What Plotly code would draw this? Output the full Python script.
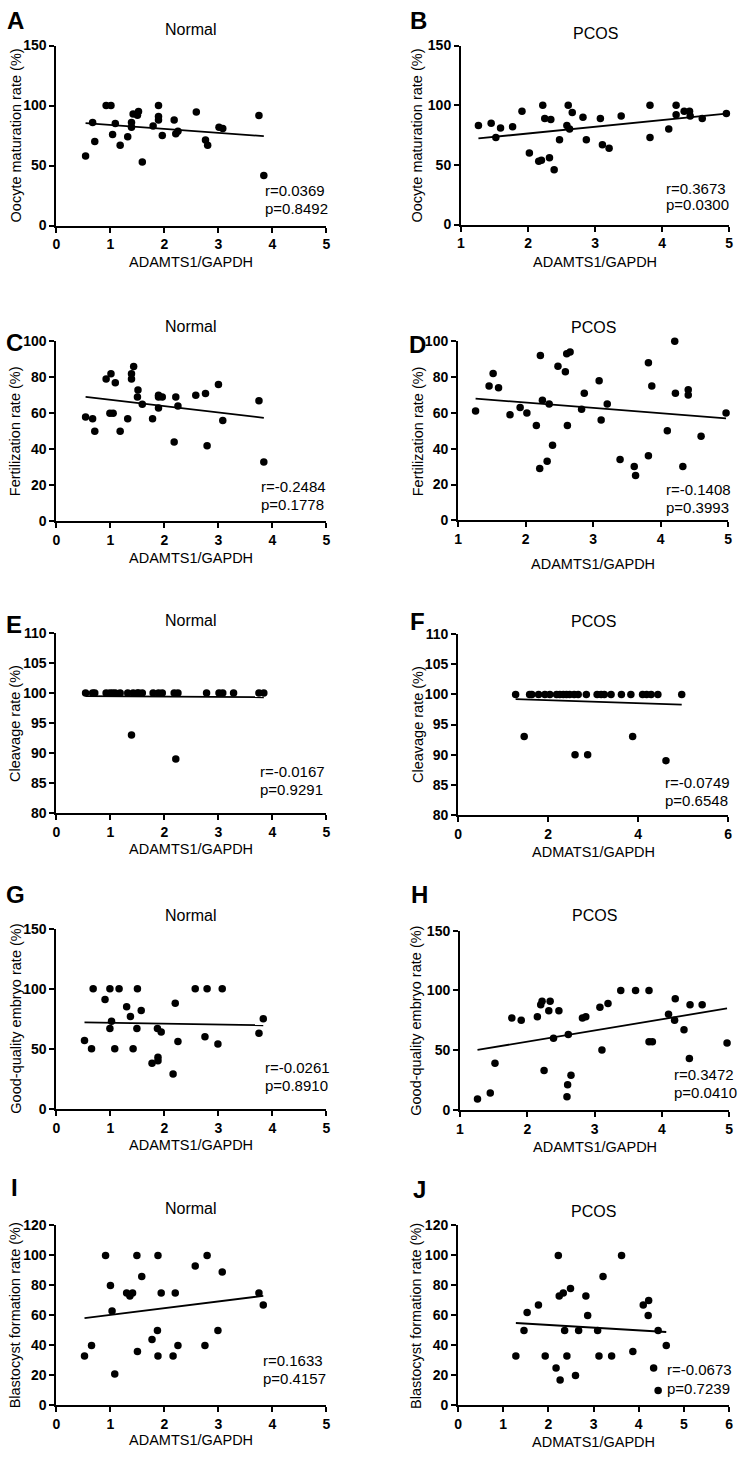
import plotly.graph_objects as go

W, H = 739, 1458
FONT = "Arial, Liberation Sans, Helvetica, sans-serif"

# ---------------- data ----------------
# A: Normal, oocyte maturation
a_x = [0.54, 0.67, 0.71, 0.92, 1.01, 1.04, 1.09, 1.18, 1.32, 1.39, 1.39, 1.42, 1.50, 1.52, 1.59,
       1.79, 1.89, 1.89, 1.89, 1.96, 2.18, 2.21, 2.25, 2.59, 2.76, 2.80, 3.01, 3.08, 3.75, 3.84]
a_y = [58, 86, 70, 100, 100, 76, 85, 67, 74, 82, 86, 93, 92, 95, 53,
       83, 100, 91, 88, 75, 88, 76.5, 78.7, 94.7, 71.3, 67, 82, 81, 91.7, 41.8]
a_fit_x = [0.54, 3.84]
a_fit_y = [85.3, 74.5]
a_stat = ["r=0.0369", "p=0.8492"]

# B: PCOS, oocyte maturation
b_x = [1.26, 1.45, 1.52, 1.59, 1.77, 1.91, 2.02, 2.16, 2.20, 2.22, 2.25, 2.32, 2.34, 2.39, 2.47,
       2.58, 2.60, 2.62, 2.66, 2.82, 2.87, 3.08, 3.11, 3.21, 3.39, 3.82, 3.82, 4.10, 4.21, 4.21,
       4.33, 4.41, 4.42, 4.60, 4.96]
b_y = [83, 85, 73, 81, 82, 95, 60, 53, 54, 100, 89, 56, 88, 46, 71,
       83, 100, 80, 94, 90, 71, 89, 67, 64, 91, 100, 73, 80, 100, 92,
       95, 95, 91, 89, 93]
b_fit_x = [1.26, 4.96]
b_fit_y = [72.2, 93.0]
b_stat = ["r=0.3673", "p=0.0300"]

# C: Normal, fertilization
c_x = [0.54, 0.67, 0.71, 0.92, 1.01, 0.99, 1.05, 1.09, 1.18, 1.32, 1.39, 1.39, 1.43, 1.51, 1.50,
       1.59, 1.78, 1.89, 1.89, 1.89, 1.96, 2.18, 2.21, 2.25, 2.58, 2.76, 2.79, 3.00, 3.08, 3.75, 3.84]
c_y = [58, 57, 50, 79, 82, 60, 60, 77, 50, 57, 82, 79, 86, 73, 69,
       65, 57, 70, 63, 69, 69, 44, 69, 64, 70, 71, 42, 76, 56, 67, 33]
c_fit_x = [0.54, 3.84]
c_fit_y = [69.1, 57.5]
c_stat = ["r=-0.2484", "p=0.1778"]

# D: PCOS, fertilization
d_x = [1.26, 1.46, 1.52, 1.60, 1.77, 1.92, 2.02, 2.16, 2.22, 2.21, 2.25, 2.32, 2.35, 2.40, 2.48,
       2.59, 2.61, 2.66, 2.62, 2.83, 2.87, 3.09, 3.12, 3.21, 3.40, 3.61, 3.63, 3.82, 3.82, 3.87,
       4.10, 4.21, 4.22, 4.33, 4.41, 4.41, 4.60, 4.97]
d_y = [61, 75, 82, 74, 59, 63, 60, 53, 92, 29, 67, 33, 65, 42, 86,
       83, 93, 94, 53, 62, 71, 78, 56, 65, 34, 30, 25, 88, 36, 75,
       50, 100, 71, 30, 73, 70, 47, 60]
d_fit_x = [1.26, 4.97]
d_fit_y = [68.0, 57.0]
d_stat = ["r=-0.1408", "p=0.3993"]

# E: Normal, cleavage
e_x = [0.54, 0.67, 0.71, 0.92, 0.99, 1.04, 1.09, 1.18, 1.32, 1.42, 1.50, 1.52, 1.59, 1.79,
       1.89, 1.96, 2.18, 2.25, 2.78, 3.01, 3.08, 3.28, 3.75, 3.84, 1.39, 2.21]
e_y = [100, 100, 100, 100, 100, 100, 100, 100, 100, 100, 100, 100, 100, 100,
       100, 100, 100, 100, 100, 100, 100, 100, 100, 100, 93, 89]
e_fit_x = [0.54, 3.84]
e_fit_y = [99.5, 99.3]
e_stat = ["r=-0.0167", "p=0.9291"]

# F: PCOS, cleavage
f_x = [1.28, 1.59, 1.64, 1.79, 1.93, 2.04, 2.19, 2.26, 2.34, 2.41, 2.48, 2.58, 2.67, 2.85,
       3.09, 3.18, 3.25, 3.40, 3.63, 3.84, 4.10, 4.19, 4.29, 4.44, 4.97,
       1.47, 2.60, 2.88, 3.88, 4.62]
f_y = [100, 100, 100, 100, 100, 100, 100, 100, 100, 100, 100, 100, 100, 100,
       100, 100, 100, 100, 100, 100, 100, 100, 100, 100, 100,
       93, 90, 90, 93, 89]
f_fit_x = [1.28, 4.97]
f_fit_y = [99.2, 98.3]
f_stat = ["r=-0.0749", "p=0.6548"]

# G: Normal, good-quality embryo
g_x = [0.52, 0.68, 0.65, 0.90, 0.99, 1.02, 0.99, 1.08, 1.16, 1.30, 1.37, 1.42, 1.50, 1.49, 1.57,
       1.77, 1.87, 1.88, 1.88, 1.94, 2.16, 2.20, 2.25, 2.57, 2.75, 2.79, 2.99, 3.07, 3.75, 3.83]
g_y = [57, 100, 50, 91, 100, 73, 67, 50, 100, 85, 77, 50, 100, 67, 82,
       38, 67, 43, 40, 64, 29, 88, 56, 100, 60, 100, 54, 100, 63, 75]
g_fit_x = [0.52, 3.83]
g_fit_y = [72.0, 69.6]
g_stat = ["r=-0.0261", "p=0.8910"]

# H: PCOS, good-quality embryo
h_x = [1.26, 1.45, 1.52, 1.77, 1.91, 2.15, 2.20, 2.22, 2.25, 2.32, 2.34, 2.39, 2.47, 2.59, 2.60,
       2.61, 2.65, 2.82, 2.87, 3.08, 3.11, 3.20, 3.39, 3.61, 3.81, 3.81, 3.86, 4.10, 4.20, 4.19,
       4.33, 4.41, 4.42, 4.60, 4.97]
h_y = [9, 14, 39, 77, 75, 78, 88, 91, 33, 83, 91, 60, 83, 11, 21,
       63, 29, 77, 78, 86, 50, 89, 100, 100, 100, 57, 57, 80, 93, 75,
       67, 43, 88, 88, 56]
h_fit_x = [1.26, 4.97]
h_fit_y = [50.2, 84.9]
h_stat = ["r=0.3472", "p=0.0410"]

# I: Normal, blastocyst formation
i_x = [0.52, 0.65, 0.91, 1.00, 1.03, 1.08, 1.30, 1.36, 1.41, 1.49, 1.50, 1.58, 1.77, 1.87,
       1.88, 1.88, 1.94, 2.16, 2.20, 2.25, 2.57, 2.75, 2.79, 2.99, 3.07, 3.75, 3.83]
i_y = [33, 40, 100, 80, 63, 21, 75, 73, 75, 100, 36, 86, 44, 50,
       100, 33, 75, 33, 75, 40, 93, 40, 100, 50, 89, 75, 67]
i_fit_x = [0.52, 3.83]
i_fit_y = [58.2, 73.1]
i_stat = ["r=0.1633", "p=0.4157"]

# J: PCOS, blastocyst formation
j_x = [1.28, 1.46, 1.53, 1.78, 1.93, 2.17, 2.22, 2.24, 2.33, 2.26, 2.36, 2.41, 2.49, 2.60, 2.67,
       2.83, 2.87, 3.09, 3.12, 3.21, 3.40, 3.62, 3.87, 4.10, 4.21, 4.22, 4.33, 4.43, 4.43, 4.61]
j_y = [33, 50, 62, 67, 33, 25, 100, 73, 75, 17, 50, 33, 78, 20, 50,
       73, 60, 50, 33, 86, 33, 100, 36, 67, 60, 70, 25, 50, 10, 40]
j_fit_x = [1.28, 4.61]
j_fit_y = [55.0, 49.0]
j_stat = ["r=-0.0673", "p=0.7239"]

X_LABEL = "ADAMTS1/GAPDH"
X_LABEL_TYPO = "ADMATS1/GAPDH"

# ---------------- layout per panel (pixel boxes: x0, x1, ytop, ybottom) ----------------
panels = [
    dict(L="A", T="Normal", x=a_x, y=a_y, fx=a_fit_x, fy=a_fit_y, st=a_stat, xr=[0, 5], xd=1, yr=[0, 150], yd=50,
         yt="Oocyte maturation rate (%)", xt=X_LABEL, box=(53, 326, 38, 220), lt=(12, 13), tt=22, xty=257, ytx=12, sp=(262, 185, 203)),
    dict(L="B", T="PCOS", x=b_x, y=b_y, fx=b_fit_x, fy=b_fit_y, st=b_stat, xr=[1, 5], xd=1, yr=[0, 150], yd=50,
         yt="Oocyte maturation rate (%)", xt=X_LABEL, box=(462, 733, 38, 219), lt=(419, 13), tt=26, xty=257, ytx=418, sp=(667, 182, 199)),
    dict(L="C", T="Normal", x=c_x, y=c_y, fx=c_fit_x, fy=c_fit_y, st=c_stat, xr=[0, 5], xd=1, yr=[0, 100], yd=20,
         yt="Fertilization rate (%)", xt=X_LABEL, box=(53, 326, 337, 519), lt=(11, 338), tt=322, xty=556, ytx=11, sp=(258, 484, 502)),
    dict(L="D", T="PCOS", x=d_x, y=d_y, fx=d_fit_x, fy=d_fit_y, st=d_stat, xr=[1, 5], xd=1, yr=[0, 100], yd=20,
         yt="Fertilization rate (%)", xt=X_LABEL, box=(459, 732, 337, 518), lt=(418, 340), tt=323, xty=562, ytx=418, sp=(667, 487, 505)),
    dict(L="E", T="Normal", x=e_x, y=e_y, fx=e_fit_x, fy=e_fit_y, st=e_stat, xr=[0, 5], xd=1, yr=[80, 110], yd=5,
         yt="Cleavage rate (%)", xt=X_LABEL, box=(53, 326, 632, 814), lt=(10, 623), tt=619, xty=850, ytx=11, sp=(257, 772, 790)),
    dict(L="F", T="PCOS", x=f_x, y=f_y, fx=f_fit_x, fy=f_fit_y, st=f_stat, xr=[0, 6], xd=2, yr=[80, 110], yd=5,
         yt="Cleavage rate (%)", xt=X_LABEL_TYPO, box=(459, 732, 633, 816), lt=(418, 620), tt=620, xty=853, ytx=418, sp=(666, 783, 801)),
    dict(L="G", T="Normal", x=g_x, y=g_y, fx=g_fit_x, fy=g_fit_y, st=g_stat, xr=[0, 5], xd=1, yr=[0, 150], yd=50,
         yt="Good-quality embryo rate (%)", xt=X_LABEL, box=(53, 326, 931, 1113), lt=(12, 896), tt=918, xty=1150, ytx=12, sp=(262, 1071, 1089)),
    dict(L="H", T="PCOS", x=h_x, y=h_y, fx=h_fit_x, fy=h_fit_y, st=h_stat, xr=[1, 5], xd=1, yr=[0, 150], yd=50,
         yt="Good-quality embryo rate (%)", xt=X_LABEL, box=(461, 733, 933, 1114), lt=(420, 896), tt=918, xty=1152, ytx=417, sp=(675, 1078, 1097)),
    dict(L="I", T="Normal", x=i_x, y=i_y, fx=i_fit_x, fy=i_fit_y, st=i_stat, xr=[0, 5], xd=1, yr=[0, 120], yd=20,
         yt="Blastocyst formation rate (%)", xt=X_LABEL, box=(53, 326, 1231, 1413), lt=(11, 1193), tt=1214, xty=1448, ytx=12, sp=(260, 1368, 1386)),
    dict(L="J", T="PCOS", x=j_x, y=j_y, fx=j_fit_x, fy=j_fit_y, st=j_stat, xr=[0, 6], xd=1, yr=[0, 120], yd=20,
         yt="Blastocyst formation rate (%)", xt=X_LABEL_TYPO, box=(459, 733, 1231, 1413), lt=(420, 1195), tt=1217, xty=1450, ytx=417, sp=(668, 1377, 1396)),
]


def px(xp):
    return xp / W


def py(yp):
    return 1 - yp / H


def ticks(lo, hi, step):
    vals = []
    v = lo
    while v <= hi + 1e-9:
        vals.append(v)
        v += step
    return vals, [f"<b>{v:g}</b>" for v in vals]


fig = go.Figure()
layout = {}
annotations = []
tickfont = dict(family=FONT, size=14, color="black", weight="bold")

for k, p in enumerate(panels, start=1):
    xa = "x" if k == 1 else f"x{k}"
    ya = "y" if k == 1 else f"y{k}"
    x0, x1, yt_, yb_ = p["box"]
    fig.add_trace(go.Scatter(x=p["x"], y=p["y"], mode="markers", xaxis=xa, yaxis=ya,
                             marker=dict(color="black", size=7.5), cliponaxis=False, showlegend=False,
                             hoverinfo="x+y"))
    fig.add_trace(go.Scatter(x=p["fx"], y=p["fy"], mode="lines", xaxis=xa, yaxis=ya,
                             line=dict(color="black", width=1.8), cliponaxis=False, showlegend=False,
                             hoverinfo="skip"))
    common = dict(showline=True, linecolor="black", linewidth=2, ticks="outside", ticklen=5,
                  tickwidth=2, tickcolor="black", showgrid=False, zeroline=False, tickfont=tickfont,
                  fixedrange=True, tickmode="array")
    xtv, xtt = ticks(p["xr"][0], p["xr"][1], p["xd"])
    ytv, ytt = ticks(p["yr"][0], p["yr"][1], p["yd"])
    layout["xaxis" if k == 1 else f"xaxis{k}"] = dict(
        domain=[px(x0), px(x1)], range=p["xr"], tickvals=xtv, ticktext=xtt, anchor=ya, **common)
    layout["yaxis" if k == 1 else f"yaxis{k}"] = dict(
        domain=[py(yb_), py(yt_)], range=p["yr"], tickvals=ytv, ticktext=ytt, anchor=xa, **common)

    # panel letter
    annotations.append(dict(text=f"<b>{p['L']}</b>", x=px(p["lt"][0]), y=py(p["lt"][1]), xref="paper", yref="paper",
                            xanchor="center", yanchor="middle", showarrow=False,
                            font=dict(family=FONT, size=24, color="black")))
    # title
    annotations.append(dict(text=p["T"], x=px((x0 + x1) / 2), y=py(p["tt"]), xref="paper", yref="paper",
                            xanchor="center", yanchor="middle", showarrow=False,
                            font=dict(family=FONT, size=16, color="black")))
    # x axis title
    annotations.append(dict(text=p["xt"], x=px((x0 + x1) / 2), y=py(p["xty"]), xref="paper", yref="paper",
                            xanchor="center", yanchor="middle", showarrow=False,
                            font=dict(family=FONT, size=14.5, color="black")))
    # y axis title
    annotations.append(dict(text=p["yt"], x=px(p["ytx"]), y=py((yt_ + yb_) / 2), xref="paper", yref="paper",
                            xanchor="center", yanchor="middle", showarrow=False, textangle=-90,
                            font=dict(family=FONT, size=14.5, color="black")))
    # r / p statistics
    sx, ry, pyy = p["sp"]
    for txt, yy in zip(p["st"], (ry, pyy)):
        annotations.append(dict(text=txt, x=px(sx), y=py(yy), xref="paper", yref="paper",
                                xanchor="left", yanchor="middle", showarrow=False,
                                font=dict(family=FONT, size=15, color="black")))

fig.update_layout(width=W, height=H, margin=dict(l=0, r=0, t=0, b=0), plot_bgcolor="white",
                  paper_bgcolor="white", annotations=annotations, showlegend=False, **layout)

fig.write_html("out.html", config={"displayModeBar": False},
               post_script="document.body.style.margin='0';document.body.style.padding='0';"
                           "document.documentElement.style.overflow='hidden';")
